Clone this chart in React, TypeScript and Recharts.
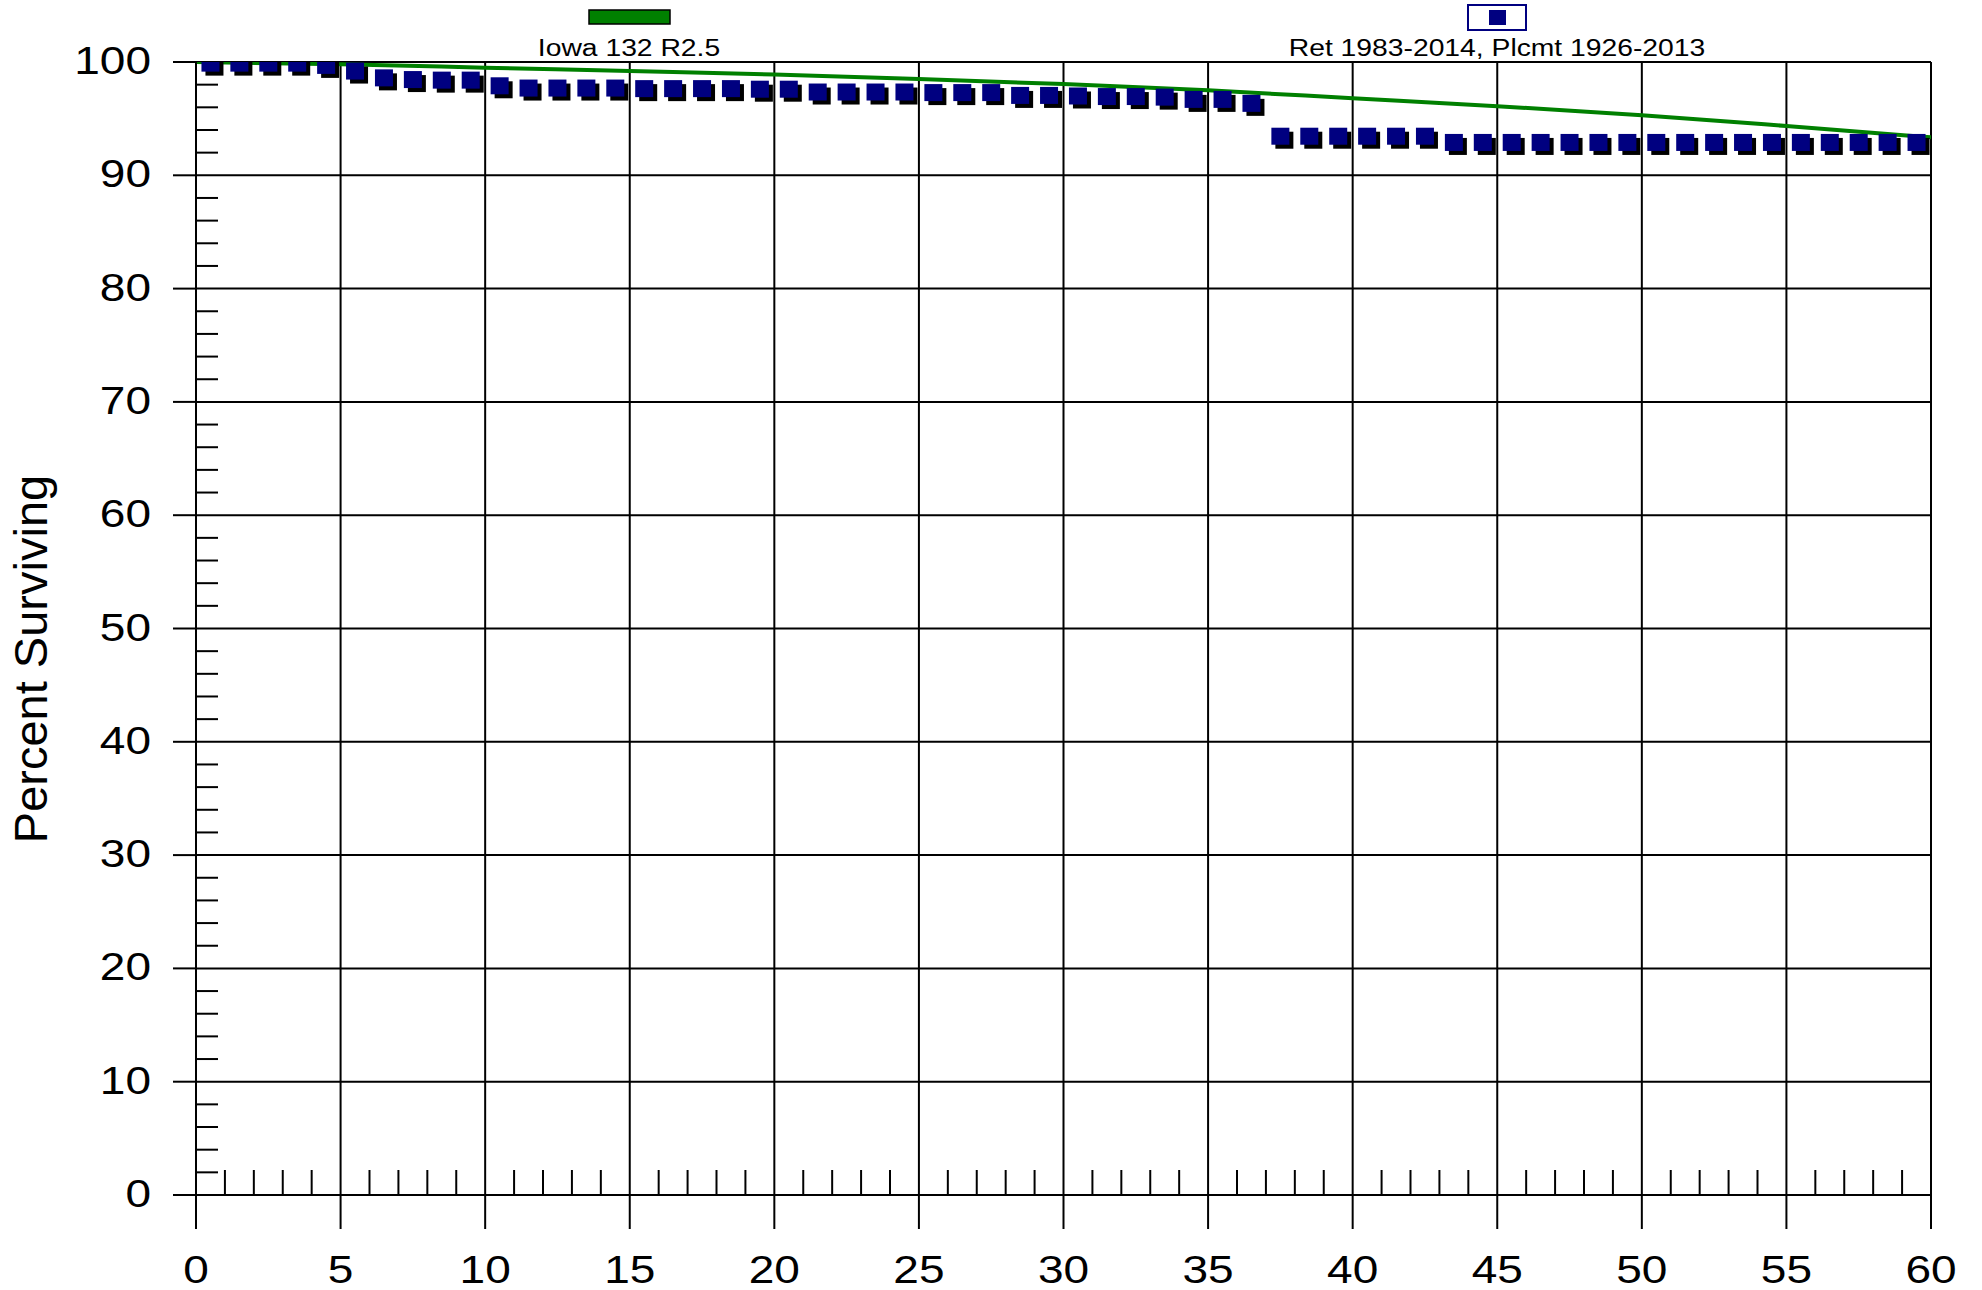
import { ComposedChart, Line, Scatter, XAxis, YAxis, CartesianGrid } from 'recharts';

// Iowa 132 R2.5 survivor curve, read every 5 years
const iowaAge = [0, 5, 10, 15, 20, 25, 30, 35, 40, 45, 50, 55, 60];
const iowaPct = [100, 99.8, 99.5, 99.2, 98.9, 98.5, 98.05, 97.5, 96.8, 96.1, 95.3, 94.35, 93.35];

// observed life table, Ret 1983-2014 / Plcmt 1926-2013
const obsAge = [
  0.5, 1.5, 2.5, 3.5, 4.5, 5.5, 6.5, 7.5, 8.5, 9.5,
  10.5, 11.5, 12.5, 13.5, 14.5, 15.5, 16.5, 17.5, 18.5, 19.5,
  20.5, 21.5, 22.5, 23.5, 24.5, 25.5, 26.5, 27.5, 28.5, 29.5,
  30.5, 31.5, 32.5, 33.5, 34.5, 35.5, 36.5, 37.5, 38.5, 39.5,
  40.5, 41.5, 42.5, 43.5, 44.5, 45.5, 46.5, 47.5, 48.5, 49.5,
  50.5, 51.5, 52.5, 53.5, 54.5, 55.5, 56.5, 57.5, 58.5, 59.5,
];
const obsPct = [
  99.9, 99.9, 99.9, 99.9, 99.7, 99.2, 98.6, 98.45, 98.4, 98.4,
  97.9, 97.7, 97.7, 97.7, 97.7, 97.65, 97.65, 97.65, 97.65, 97.6,
  97.6, 97.35, 97.35, 97.35, 97.35, 97.3, 97.3, 97.3, 97.05, 97.05,
  97.0, 96.95, 96.95, 96.9, 96.7, 96.7, 96.35, 93.45, 93.45, 93.45,
  93.45, 93.45, 93.45, 92.9, 92.9, 92.9, 92.9, 92.9, 92.9, 92.9,
  92.9, 92.9, 92.9, 92.9, 92.9, 92.9, 92.9, 92.9, 92.9, 92.9,
];

const xTicks = [0, 5, 10, 15, 20, 25, 30, 35, 40, 45, 50, 55, 60];
const xMinorTicks = [
  1, 2, 3, 4, 6, 7, 8, 9, 11, 12, 13, 14, 16, 17, 18, 19, 21, 22, 23, 24,
  26, 27, 28, 29, 31, 32, 33, 34, 36, 37, 38, 39, 41, 42, 43, 44, 46, 47, 48, 49,
  51, 52, 53, 54, 56, 57, 58, 59,
];
const yTicks = [0, 10, 20, 30, 40, 50, 60, 70, 80, 90, 100];
const yMinorTicks = [
  2, 4, 6, 8, 12, 14, 16, 18, 22, 24, 26, 28, 32, 34, 36, 38, 42, 44, 46, 48,
  52, 54, 56, 58, 62, 64, 66, 68, 72, 74, 76, 78, 82, 84, 86, 88, 92, 94, 96, 98,
];

const iowaData = iowaAge.map((age, i) => ({ age, pct: iowaPct[i] }));
const obsData = obsAge.map((age, i) => ({ age, pct: obsPct[i] }));
const allXTicks = [...xTicks, ...xMinorTicks].sort((a, b) => a - b);
const allYTicks = [...yTicks, ...yMinorTicks].sort((a, b) => a - b);

const FONT = '"Liberation Sans", Arial, sans-serif';
const GREEN = '#008000';
const NAVY = '#000080';

// major ticks hang below the axis with a label, minor ticks point up into the plot
const XTick = (props: any) => {
  const { x, y, payload } = props;
  if (!xTicks.includes(payload.value)) {
    return <line x1={x} x2={x} y1={y} y2={y - 25} stroke="#000" strokeWidth={2} />;
  }
  return (
    <g>
      <line x1={x} x2={x} y1={y} y2={y + 34} stroke="#000" strokeWidth={2} />
      <text transform={`translate(${x},${y + 88}) scale(1.18,1)`} textAnchor="middle"
            fontFamily={FONT} fontSize={39} fill="#000">
        {payload.value}
      </text>
    </g>
  );
};

const YTick = (props: any) => {
  const { x, y, payload } = props;
  if (!yTicks.includes(payload.value)) {
    return <line x1={x} x2={x + 22} y1={y} y2={y} stroke="#000" strokeWidth={2} />;
  }
  return (
    <g>
      <line x1={x - 23} x2={x} y1={y} y2={y} stroke="#000" strokeWidth={2} />
      <text transform={`translate(${x - 45},${y + 12}) scale(1.18,1)`} textAnchor="end"
            fontFamily={FONT} fontSize={39} fill="#000">
        {payload.value}
      </text>
    </g>
  );
};

const SquareDot = (props: any) => {
  const { cx, cy } = props;
  if (cx == null || cy == null) return null;
  return (
    <g>
      <rect x={cx - 5} y={cy - 4.5} width={18} height={17} fill="#000" />
      <rect x={cx - 9} y={cy - 8.5} width={18} height={17} fill={NAVY} />
    </g>
  );
};

export default function App() {
  return (
    <div style={{ position: 'absolute', left: 0, top: 0, width: 1982, height: 1290, background: '#fff' }}>
      <ComposedChart width={1982} height={1290} margin={{ top: 62, right: 51, bottom: 0, left: 0 }}>
        <CartesianGrid stroke="#000" strokeWidth={2} horizontalValues={yTicks} verticalValues={xTicks} />
        <XAxis type="number" dataKey="age" domain={[0, 60]} ticks={allXTicks} interval={0}
               height={95} tickSize={0} tickMargin={0} tickLine={false} stroke="#000" strokeWidth={2}
               tick={<XTick />} allowDataOverflow />
        <YAxis type="number" dataKey="pct" domain={[0, 100]} ticks={allYTicks} interval={0}
               width={196} tickSize={0} tickMargin={0} tickLine={false} stroke="#000" strokeWidth={2}
               tick={<YTick />} allowDataOverflow />
        <Line data={iowaData} dataKey="pct" type="monotone" stroke={GREEN} strokeWidth={4}
              dot={false} activeDot={false} isAnimationActive={false} />
        <Scatter data={obsData} dataKey="pct" shape={<SquareDot />} isAnimationActive={false} />
      </ComposedChart>
      <svg width={1982} height={1290} style={{ position: 'absolute', left: 0, top: 0, pointerEvents: 'none' }}>
        <rect x={589} y={10} width={81} height={14} fill={GREEN} stroke="#000" strokeWidth={1.5} />
        <text transform="translate(629,56) scale(1.23,1)" textAnchor="middle" fontFamily={FONT} fontSize={23} fill="#000">
          Iowa 132 R2.5
        </text>
        <rect x={1468} y={5} width={58} height={25} fill="#fff" stroke={NAVY} strokeWidth={2} />
        <rect x={1489} y={10} width={17} height={15} fill={NAVY} />
        <text transform="translate(1497,56) scale(1.23,1)" textAnchor="middle" fontFamily={FONT} fontSize={23} fill="#000">
          Ret 1983-2014, Plcmt 1926-2013
        </text>
        <text transform="translate(47,659) rotate(-90)" textAnchor="middle" fontFamily={FONT} fontSize={47} fill="#000">
          Percent Surviving
        </text>
      </svg>
    </div>
  );
}
